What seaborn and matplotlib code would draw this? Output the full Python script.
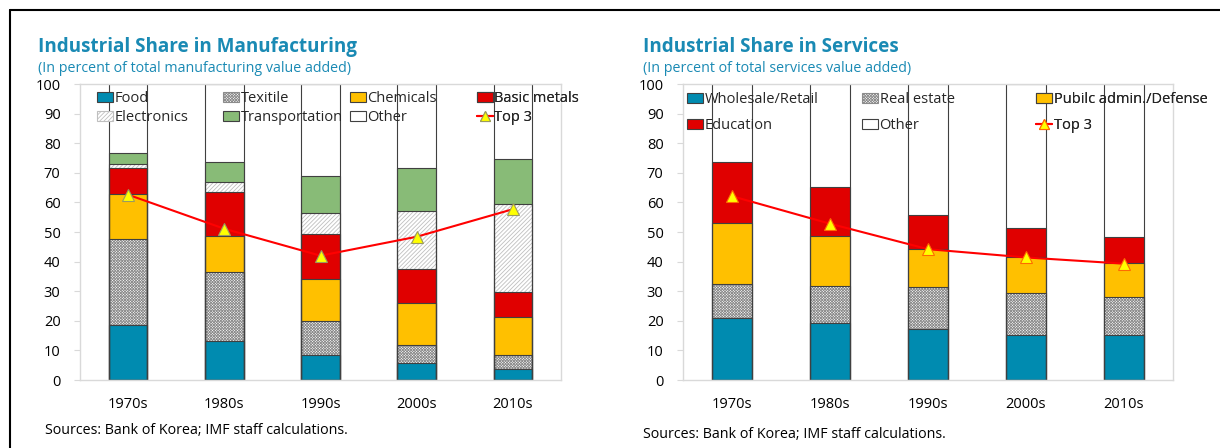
import numpy as np
import pandas as pd
import matplotlib
matplotlib.use("Agg")
import matplotlib.pyplot as plt
from matplotlib.patches import Patch
from matplotlib.lines import Line2D
import seaborn as sns

decades = ["1970s", "1980s", "1990s", "2000s", "2010s"]

# Manufacturing: share of each industry (percent of manufacturing value added)
food = [18.5, 13.1, 8.5, 5.6, 3.8]
textile = [29.0, 23.4, 11.3, 6.1, 4.6]
chemicals = [15.3, 12.3, 14.3, 14.4, 13.0]
basic_metals = [8.7, 14.7, 15.2, 11.5, 8.3]
electronics = [1.6, 3.4, 7.2, 19.5, 29.6]
transportation = [3.7, 6.9, 12.5, 14.4, 15.2]
manuf_top3 = [62.6, 51.1, 42.0, 48.4, 57.7]

# Services: share of each industry (percent of services value added)
wholesale_retail = [20.9, 19.4, 17.2, 15.3, 15.3]
real_estate = [11.5, 12.4, 14.2, 14.1, 12.9]
public_admin = [20.5, 16.8, 12.9, 12.1, 11.2]
education = [20.9, 16.5, 11.5, 9.9, 9.0]
serv_top3 = [62.1, 52.8, 44.2, 41.4, 39.3]

TEAL = "#008BB0"
GOLD = "#FFC000"
RED = "#E00000"
GREEN = "#88BB77"
EDGE = "#404040"
TITLE_C = "#1A8AB4"
FRAME_C = "#D9D9D9"

STYLE = {
    "Food": dict(face=TEAL),
    "Texitile": dict(face="#FFFFFF", hatch="xxxxxxxxxxxx", hc="#8C8C8C"),
    "Chemicals": dict(face=GOLD),
    "Basic metals": dict(face=RED),
    "Electronics": dict(face="#FFFFFF", hatch="////////", hc="#BFBFBF"),
    "Transportation": dict(face=GREEN),
    "Other": dict(face="#FFFFFF"),
    "Wholesale/Retail": dict(face=TEAL),
    "Real estate": dict(face="#FFFFFF", hatch="xxxxxxxxxxxx", hc="#8C8C8C"),
    "Pubilc admin./Defense": dict(face=GOLD),
    "Education": dict(face=RED),
}

sns.set_theme(style="white")
plt.rcParams["font.family"] = ["Open Sans", "DejaVu Sans"]
plt.rcParams["hatch.linewidth"] = 0.6

FS = 10.5


def stacked_panel(ax, layers, top3, marker_edge):
    """Stacked shares (bottom to top) with the remainder as 'Other', plus the top-3 line."""
    df = pd.DataFrame({"decade": decades})
    cum = np.zeros(len(decades))
    names = []
    for name, vals in layers:
        cum = cum + np.asarray(vals, dtype=float)
        df[name] = cum
        names.append(name)
    df["Other"] = 100.0
    names.append("Other")

    # fills: tallest cumulative bar first, each shorter one painted over it
    for name in reversed(names):
        st = STYLE[name]
        sns.barplot(data=df, x="decade", y=name, ax=ax, width=0.4, saturation=1,
                    color=st["face"], hatch=st.get("hatch"),
                    edgecolor=st.get("hc", st["face"]), linewidth=0, errorbar=None)
    # segment outlines
    for name in names:
        sns.barplot(data=df, x="decade", y=name, ax=ax, width=0.4, saturation=1,
                    fill=False, color=EDGE, linewidth=0.8, errorbar=None)

    sns.lineplot(x=np.arange(len(decades)), y=top3, ax=ax, color="#FF0000",
                 linewidth=1.5, marker="^", markersize=8.5,
                 markerfacecolor="#FFFF00", markeredgecolor=marker_edge,
                 markeredgewidth=0.8, zorder=5)

    ax.set_xlim(-0.5, len(decades) - 0.5)
    ax.set_ylim(0, 100)
    ax.set_yticks(range(0, 101, 10))
    ax.set_xticks(range(len(decades)))
    ax.set_xticklabels(decades)
    ax.set_xticks(np.arange(0.5, len(decades) - 0.5, 1), minor=True)
    ax.set_xlabel("")
    ax.set_ylabel("")
    ax.tick_params(axis="x", which="major", length=0, pad=12, labelsize=FS, labelcolor="black")
    ax.tick_params(axis="x", which="minor", direction="in", length=4, width=0.8, color=FRAME_C)
    ax.tick_params(axis="y", which="major", direction="out", length=4, width=0.8,
                   color=FRAME_C, labelsize=FS, labelcolor="black", pad=10)
    ax.yaxis.set_tick_params(left=True)
    for sp in ax.spines.values():
        sp.set_visible(True)
        sp.set_color(FRAME_C)
        sp.set_linewidth(1.0)


def handle(name):
    st = STYLE[name]
    if "hatch" in st:
        return Patch(facecolor=st["face"], edgecolor=st["hc"], hatch=st["hatch"], linewidth=0.8)
    return Patch(facecolor=st["face"], edgecolor=EDGE, linewidth=0.8)


def top3_handle(edge):
    return Line2D([], [], color="#FF0000", linewidth=1.5, marker="^", markersize=7,
                  markerfacecolor="#FFFF00", markeredgecolor=edge, markeredgewidth=0.8)


def column_legends(ax, columns, xs, y_top, spacing):
    for entries, x in zip(columns, xs):
        hs = [h for h, _ in entries]
        ls = [l for _, l in entries]
        leg = ax.legend(hs, ls, loc="upper left", bbox_to_anchor=(x, y_top),
                        frameon=False, fontsize=FS, borderpad=0, borderaxespad=0,
                        handlelength=1.1, handleheight=0.65, handletextpad=0.1,
                        labelspacing=spacing)
        ax.add_artist(leg)


fig = plt.figure(figsize=(12.2, 4.48), dpi=100)
axL = fig.add_axes([80 / 1220, 68 / 448, 481 / 1220, 296 / 448])
axR = fig.add_axes([683 / 1220, 68 / 448, 490 / 1220, 296 / 448])

stacked_panel(axL, [("Food", food), ("Texitile", textile), ("Chemicals", chemicals),
                    ("Basic metals", basic_metals), ("Electronics", electronics),
                    ("Transportation", transportation)],
              manuf_top3, "#9A9A60")
stacked_panel(axR, [("Wholesale/Retail", wholesale_retail), ("Real estate", real_estate),
                    ("Pubilc admin./Defense", public_admin), ("Education", education)],
              serv_top3, "#FF6A00")

column_legends(
    axL,
    [[(handle("Food"), "Food"), (handle("Electronics"), "Electronics")],
     [(handle("Texitile"), "Texitile"), (handle("Transportation"), "Transportation")],
     [(handle("Chemicals"), "Chemicals"), (handle("Other"), "Other")],
     [(handle("Basic metals"), "Basic metals"), (top3_handle("#9A9A60"), "Top 3")]],
    [(97 - 80) / 481, (223 - 80) / 481, (350 - 80) / 481, (477 - 80) / 481],
    0.975, 0.25)
column_legends(
    axR,
    [[(handle("Wholesale/Retail"), "Wholesale/Retail"), (handle("Education"), "Education")],
     [(handle("Real estate"), "Real estate"), (handle("Other"), "Other")],
     [(handle("Pubilc admin./Defense"), "Pubilc admin./Defense"), (top3_handle("#FF6A00"), "Top 3")]],
    [(687 - 683) / 490, (862 - 683) / 490, (1036 - 683) / 490],
    0.973, 0.75)

# titles and notes
fig.text(38 / 1220, 1 - 52 / 448, "Industrial Share in Manufacturing", fontsize=13.6,
         fontweight="bold", color=TITLE_C, va="baseline")
fig.text(38 / 1220, 1 - 72 / 448, "(In percent of total manufacturing value added)",
         fontsize=10.3, color=TITLE_C, va="baseline")
fig.text(643 / 1220, 1 - 52 / 448, "Industrial Share in Services", fontsize=13.6,
         fontweight="bold", color=TITLE_C, va="baseline")
fig.text(643 / 1220, 1 - 72 / 448, "(In percent of total services value added)",
         fontsize=10.3, color=TITLE_C, va="baseline")
fig.text(45 / 1220, 1 - 430 / 448, "Sources: Bank of Korea; IMF staff calculations.",
         fontsize=10.3, color="black", va="center")
fig.text(643 / 1220, 1 - 434 / 448, "Sources: Bank of Korea; IMF staff calculations.",
         fontsize=10.3, color="black", va="center")

# outer frame (top and left edges)
fig.add_artist(Line2D([10 / 1220, 10 / 1220], [0, 1 - 10 / 448], color="black",
                      linewidth=1.5, transform=fig.transFigure))
fig.add_artist(Line2D([10 / 1220, 1], [1 - 10 / 448, 1 - 10 / 448], color="black",
                      linewidth=1.5, transform=fig.transFigure))

fig.savefig("out.png", dpi=100)
